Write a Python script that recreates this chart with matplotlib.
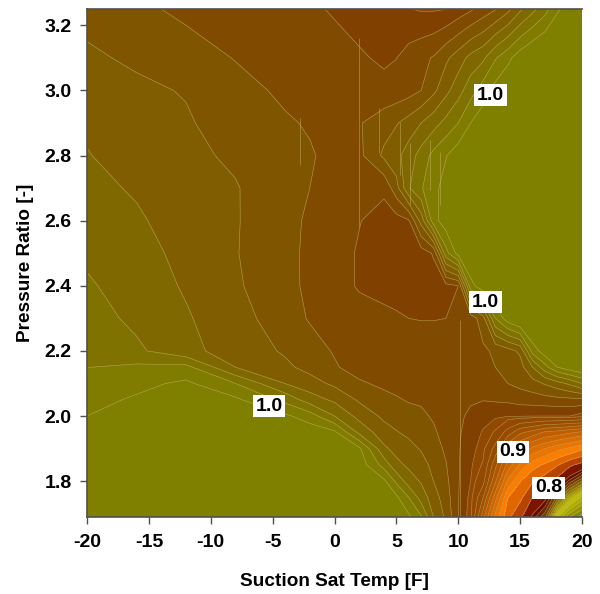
import numpy as np
import matplotlib
matplotlib.use("Agg")
import matplotlib.pyplot as plt
from matplotlib.colors import LinearSegmentedColormap, Normalize

plt.rcParams['font.family'] = ['Liberation Sans', 'DejaVu Sans']
plt.rcParams['axes.unicode_minus'] = False

suction_temp = [-20, -16, -12, -8, -4, -2, 0, 2, 4, 5, 6, 7, 8, 9, 10, 11, 12, 13, 14, 15, 16, 17, 18, 19, 20]
pressure_ratio = [3.25, 3.1, 3.0, 2.9, 2.8, 2.7, 2.6, 2.5, 2.4, 2.3, 2.2, 2.15, 2.1, 2.05, 2.0, 1.95, 1.9, 1.85, 1.8, 1.75, 1.69]

# values x 1000, one row per pressure ratio
row_325 = [978, 976, 974, 973, 972, 970.8, 969.5, 968, 966.5, 966, 965.2, 964.5, 964.5, 964.9, 967, 969.2, 972, 974.6, 978.5, 984, 988.5, 993, 999, 1003, 1006]
row_310 = [981, 979, 977, 974.8, 973.5, 973, 971.8, 970.6, 969.2, 969.9, 972, 973.7, 975.4, 979, 982.5, 986.5, 989, 994.5, 998.5, 1003, 1006, 1008, 1010, 1011, 1012]
row_300 = [983.5, 981.2, 979.6, 976.5, 974.2, 973.5, 972.6, 972, 971.5, 972, 973, 975, 978.8, 983.5, 988, 993, 997.5, 1002, 1005, 1008, 1010, 1011, 1012, 1012, 1013]
row_290 = [984, 982.3, 980.7, 977, 975.5, 974.6, 973.7, 974.6, 977.8, 979.6, 982, 985, 988, 991.5, 995, 1000, 1003, 1006, 1009, 1011, 1012, 1013, 1013, 1014, 1014]
row_280 = [985.3, 982.4, 981, 979.3, 976.5, 975.4, 973.8, 973.8, 981, 983.5, 987.5, 992, 996.5, 999.7, 1003, 1006, 1009, 1011, 1012, 1013, 1014, 1014, 1015, 1015, 1015]
row_270 = [986, 984.6, 982, 980.3, 977, 975, 973.3, 972.8, 971, 978, 989.5, 994.5, 998.5, 1002, 1005, 1008, 1010, 1012, 1013, 1014, 1015, 1015, 1016, 1016, 1016]
row_260 = [987.5, 985.5, 983.3, 980.4, 976.2, 974.4, 972, 970.2, 968, 968, 969.5, 982, 998, 1003, 1006, 1009, 1011, 1013, 1014, 1015, 1016, 1016, 1017, 1017, 1017]
row_250 = [989, 986.3, 984, 980.3, 976, 974.3, 972, 969.5, 968, 967.5, 967, 967.5, 970.5, 993, 1002, 1006, 1009, 1011, 1013, 1014, 1015, 1016, 1017, 1017, 1017]
row_240 = [990.7, 987.5, 984.5, 980.7, 976.5, 974, 972, 969.5, 968, 967.5, 967, 967, 967.5, 968.5, 970, 998, 1004, 1008, 1010, 1012, 1014, 1015, 1016, 1017, 1017]
row_230 = [992.3, 988.8, 985.5, 982, 977.3, 974.6, 973, 972, 971.5, 970.8, 970, 969.8, 969.8, 970, 970.5, 972, 978, 995, 1003, 1007, 1009, 1011, 1013, 1014, 1015]
row_220 = [994, 991, 986.3, 983, 979.4, 977, 974.6, 973, 972.5, 972.5, 972.5, 972.5, 972.5, 972.5, 972.7, 973, 974, 976, 978, 981, 997, 1003, 1005, 1007, 1009]
row_215 = [994.9, 996, 996.5, 985, 981, 978.5, 975.5, 973, 972.5, 972.3, 972, 971.8, 971.8, 971.8, 971.8, 972, 973, 975, 976.5, 978, 985, 993, 1000, 1003, 1005]
row_210 = [996.5, 998.6, 1001, 995, 985, 982, 979, 975.7, 974, 973.5, 972.7, 972.3, 972, 971.7, 971.4, 971.2, 971.8, 973.5, 975, 976.5, 978, 980.5, 983, 986, 990]
row_205 = [998.3, 1000.7, 1003, 1001, 993.5, 987.5, 984, 979.3, 976.5, 975.5, 974.6, 974.3, 973, 971.8, 971.2, 970.6, 970.2, 970.6, 971, 972, 972.5, 973, 973.5, 973.7, 973.8]
row_200 = [1000, 1003, 1005, 1004, 1001, 997.5, 990, 983.3, 979, 978, 976.8, 976, 974.4, 972.5, 971, 969, 967, 966, 965.5, 965.5, 965, 965, 965, 965, 963]
row_195 = [1003, 1005, 1007, 1006, 1005, 1003, 1001, 988.8, 982, 980.3, 979, 978, 975.8, 973, 970.6, 968, 964.5, 959, 942, 925, 918, 908, 905, 900, 895]
row_190 = [1005, 1006, 1008, 1008, 1007, 1005, 1003, 1001, 986, 983.3, 981.5, 979.6, 977.1, 974.2, 970.5, 967, 962.5, 943, 913, 896, 882, 873, 864, 858, 850]
row_185 = [1006, 1008, 1009, 1009, 1008, 1007, 1005, 1003, 993, 986.5, 984, 982, 978.6, 975.3, 970.5, 966, 959, 926, 893, 870, 853, 845, 836, 825, 818]
row_180 = [1007, 1009, 1010, 1010, 1009, 1008, 1007, 1005, 1001, 994, 987.5, 984.5, 980, 976.3, 970.4, 965, 952, 912, 870, 848, 836, 828, 818, 803, 790]
row_175 = [1008, 1010, 1011, 1011, 1010, 1009, 1008, 1007, 1003, 1001, 995, 988, 982.3, 977.5, 970.3, 963.5, 935, 890, 848, 838, 822, 813, 793, 775, 763]
row_169 = [1009, 1011, 1012, 1012, 1011, 1010, 1009, 1008, 1005, 1003, 1001, 995.5, 985, 979, 970.2, 962.5, 915, 868, 838, 825, 808, 796, 765, 750, 742]

value_rows = [row_325, row_310, row_300, row_290, row_280, row_270, row_260, row_250, row_240, row_230, row_220,
              row_215, row_210, row_205, row_200, row_195, row_190, row_185, row_180, row_175, row_169]

label_x = [12.6, 12.2, -5.3, 14.4, 17.3]
label_y = [2.985, 2.35, 2.03, 1.89, 1.78]
label_text = ['1.0', '1.0', '1.0', '0.9', '0.8']

# straight seams of the contour field
seam_x = [-2.8, 2.0, 3.6, 5.33, 6.1, 7.72, 8.5, 10.14]
seam_top = [2.916, 3.161, 2.946, 2.903, 2.839, 2.848, 2.811, 2.296]
seam_bottom = [2.771, 2.581, 2.808, 2.741, 2.649, 2.695, 2.649, 1.69]

Z = np.array(value_rows) / 1000.0
X, Y = np.meshgrid(suction_temp, pressure_ratio)

zmin, zmax = 0.73, 1.0
stops = [(0.73, (125, 85, 0)), (0.745, (128, 128, 0)), (0.77, (195, 195, 0)), (0.79, (128, 100, 0)),
         (0.81, (95, 0, 0)), (0.83, (190, 70, 0)), (0.85, (255, 128, 0)), (0.90, (195, 95, 0)),
         (0.94, (150, 75, 0)), (0.9625, (145, 72, 0)), (0.967, (128, 64, 0)), (1.0, (128, 128, 0))]
cmap = LinearSegmentedColormap.from_list(
    'chart', [((z - zmin) / (zmax - zmin), tuple(c / 255 for c in rgb)) for z, rgb in stops], N=512)

levels = np.unique(np.round(np.concatenate([np.arange(0.73, 0.81, 0.005), np.arange(0.81, 0.965, 0.0125),
                                            np.arange(0.965, 1.0001, 0.005), [1.03]]), 4))

fig = plt.figure(figsize=(6.0, 5.94), dpi=100)
ax = fig.add_axes([87 / 600, 1 - 517 / 594, 495 / 600, 508 / 594])
ax.contourf(X, Y, Z, levels=levels, cmap=cmap, norm=Normalize(zmin, zmax))
ax.contour(X, Y, Z, levels=levels[:-1], colors=[(0.80, 0.72, 0.45)], linewidths=0.4, alpha=0.7)
ax.vlines(seam_x, seam_bottom, seam_top, colors=[(0.80, 0.72, 0.45)], linewidths=0.55, alpha=0.55)

for lx, ly, lt in zip(label_x, label_y, label_text):
    ax.text(lx, ly, lt, ha='center', va='center', fontsize=14, fontweight='bold', color='black',
            bbox=dict(facecolor='white', edgecolor='none', pad=1.8))

ax.set_xlim(-20, 20)
ax.set_ylim(1.69, 3.25)
ax.set_xticks([-20, -15, -10, -5, 0, 5, 10, 15, 20])
ax.set_yticks([1.8, 2.0, 2.2, 2.4, 2.6, 2.8, 3.0, 3.2])
ax.set_yticklabels(['1.8', '2.0', '2.2', '2.4', '2.6', '2.8', '3.0', '3.2'])
ax.tick_params(axis='both', direction='out', length=5, width=1.0, color='#505050', labelsize=14)
ax.tick_params(axis='x', pad=7.5)
ax.tick_params(axis='y', pad=6)
for t in ax.get_xticklabels() + ax.get_yticklabels():
    t.set_fontweight('bold')
for s in ax.spines.values():
    s.set_color('#505050')
    s.set_linewidth(1.2)
ax.spines['right'].set_visible(False)
ax.set_xlabel('Suction Sat Temp [F]', fontsize=13.7, fontweight='bold')
ax.set_ylabel('Pressure Ratio [-]', fontsize=13.7, fontweight='bold')
ax.xaxis.set_label_coords(0.5, -0.126)
ax.yaxis.set_label_coords(-0.125, 0.5)
ax.xaxis.label.set_va('center')
ax.yaxis.label.set_va('center')
fig.savefig('out.png', dpi=100, facecolor='white')
